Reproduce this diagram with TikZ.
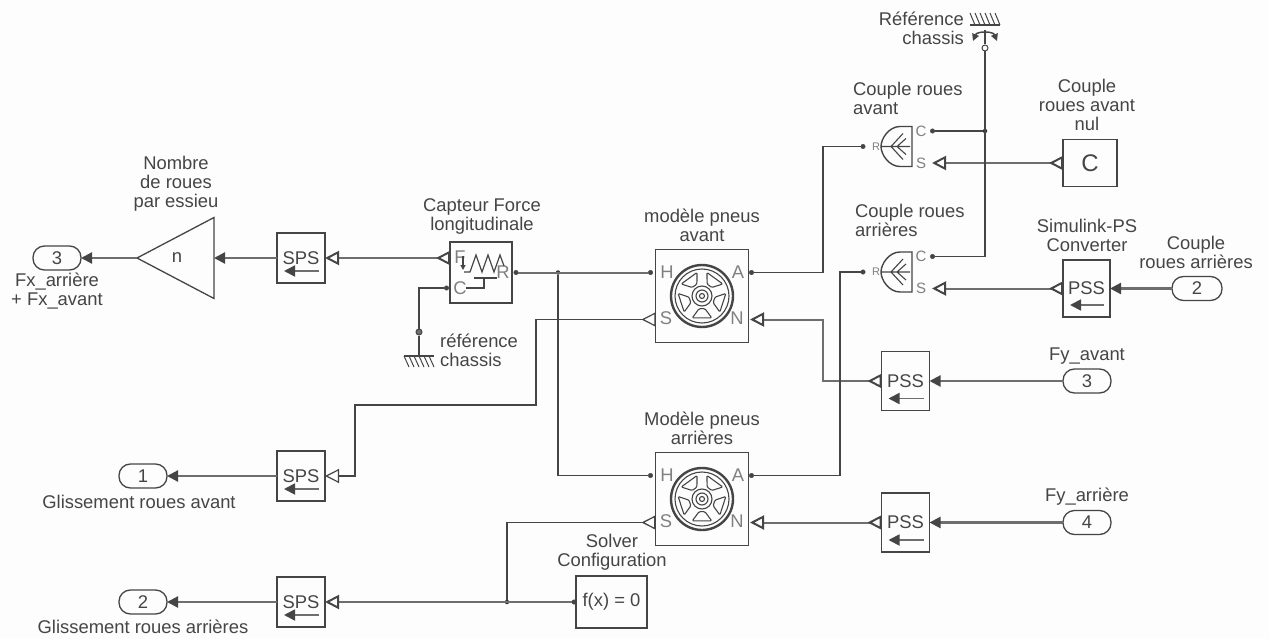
\documentclass[tikz,border=0pt]{standalone}
\usepackage{fontspec}
\setmainfont{Liberation Sans}
\usepackage{tikz}
\usetikzlibrary{positioning,arrows.meta,shapes.geometric}
\definecolor{inkgray}{HTML}{454545}
\definecolor{wiregray}{HTML}{6E6E6E}
\definecolor{lettergray}{HTML}{808080}
\definecolor{papergray}{HTML}{FDFDFD}
\tikzset{
  simblock/.style={draw=inkgray, line width=1.3pt, outer sep=0pt, inner sep=0pt, align=center},
  convblock/.style={simblock, minimum width=48pt, minimum height=50pt},
  inport/.style={draw=inkgray, line width=1.3pt, rounded corners=11.5pt, outer sep=0pt, inner sep=0pt, minimum width=48pt, minimum height=24pt},
  gainblock/.style={simblock, isosceles triangle, isosceles triangle stretches, shape border rotate=180, minimum width=81pt, minimum height=77pt},
  pdot/.style={circle, fill=inkgray, draw=inkgray, inner sep=0pt, minimum size=4.5pt, outer sep=0pt},
  jdot/.style={circle, fill=black!80, inner sep=0pt, minimum size=4.5pt, outer sep=0pt},
  caption/.style={inner sep=0pt, align=center},
  letter/.style={inner sep=0pt, text=lettergray},
  conswire/.style={draw=inkgray, line width=1.3pt},
  sigwire/.style={draw=wiregray, line width=2.2pt, -{Triangle[length=11pt, width=11pt, fill=inkgray, color=inkgray]}},
  psline/.style={draw=wiregray, line width=2pt, {Triangle[open, reversed, length=14pt, width=14pt, color=inkgray]}-{Triangle[open, length=14pt, width=14pt, color=inkgray]}},
  psbranch/.style={conswire, {Triangle[open, reversed, length=14pt, width=14pt]}-},
  convarrow/.style={draw=wiregray, line width=1.8pt, -{Triangle[length=11pt, width=11pt, color=inkgray]}},
  tyre/.pic={
    \node[simblock, minimum width=93pt, minimum height=93pt] (-box) at (0,0) {};
    \node[pdot] (-pH) at (-51.5,-23.5) {};
    \node[pdot] (-pA) at (49.5,-23.5) {};
    \coordinate (-pS) at (-46.5,23.5);
    \coordinate (-pN) at (48,23.5);
    \node[letter] (-H) at (-35,-23.5) {H};
    \node[letter] (-A) at (36,-23.5) {A};
    \node[letter] (-S) at (-36,22) {S};
    \node[letter] (-N) at (35,22) {N};
    \draw[inkgray, line width=2.4pt] (0,0) circle[radius=31pt];
    \draw[inkgray, line width=1.1pt] (0,0) circle[radius=27pt];
    \draw[inkgray, line width=1.1pt] (0,0) circle[radius=10pt] circle[radius=6pt] circle[radius=2.5pt];
    \foreach \a in {18,90,162,234,306}
      \draw[inkgray, line width=1.1pt, rounded corners=1.2pt] (\a-13:13) -- (\a+13:13) -- (\a+24:24) -- (\a-24:24) -- cycle;
  },
  coupleur/.pic={
    \node[letter] (-R) at (-21,0) {\fontsize{11}{11}\selectfont R};
    \node[letter] (-C) at (24,-15.5) {\fontsize{15}{15}\selectfont C};
    \node[letter] (-S) at (24,16.5) {\fontsize{15}{15}\selectfont S};
    \node[pdot] (-pR) at (-34,0) {};
    \node[pdot] (-pC) at (35.5,-15.5) {};
    \coordinate (-pS) at (35,16.5);
    \draw[inkgray, line width=1.4pt] (15,-20) -- (3,-20) .. controls (-8,-20) and (-16,-8) .. (-16,0) .. controls (-16,8) and (-8,20) .. (3,20) -- (15,20) -- cycle;
    \draw[inkgray, line width=1.1pt] (-16,0) -- (13,0) (-6,0) -- (6,-13) (-6,0) -- (6,13) (0,0) -- (9,-8) (0,0) -- (9,8);
  }
}
\begin{document}
\begin{tikzpicture}[x=1pt, y=-1pt, every node/.style={font=\fontsize{18.4}{19}\selectfont, text=inkgray}]
  \useasboundingbox (0,0) rectangle (1269,639);
  \fill[papergray] (0,0) rectangle (1269,639);
  % bloc gauche
  \node[inport] (sortie3) at (57,258) {3};
  \node[gainblock, anchor=apex] (gain) at (137,258) {n\hspace*{20pt}};
  \node[convblock] (spsforce) at (301,258) {SPS};
  \node[inport] (sortie1) at (143,476) {1};
  \node[convblock] (spsavant) at (301,476) {SPS};
  \node[inport] (sortie2) at (143,602) {2};
  \node[convblock] (spsarriere) at (301,602) {SPS};
  \node[simblock, minimum width=71pt, minimum height=52pt] (solver) at (611.5,602) {f(x) = 0};
  \node[pdot] (solverport) at (574,602) {};
  % capteur
  \node[simblock, minimum width=62pt, minimum height=61pt] (capteur) at (481,272.5) {};
  \node[letter] (capteurF) at (460,257) {F};
  \node[letter] (capteurC) at (460,288) {C};
  \node[letter] (capteurR) at (503,272) {R};
  \coordinate (capteurpF) at (450,258);
  \node[pdot] (capteurpC) at (446.5,288) {};
  \node[pdot] (capteurpR) at (516,272.5) {};
  \draw[inkgray, line width=1.2pt] (464,272) -- (470,272) -- (476,255) -- (482,272) -- (488,255) -- (494,272) -- (500,255) -- (504,266);
  \draw[inkgray, line width=2.4pt] (474,278) -- (497,278);
  \draw[inkgray, line width=1.2pt] (484,278) -- (484,288) -- (466,288);
  \draw[inkgray, line width=1.2pt, -{Triangle[length=5pt, width=5pt]}] (463,256) -- (463,270);
  % roues
  \pic (avant) at (702,296) {tyre};
  \pic (arriere) at (702,499) {tyre};
  \node[jdot] (jforce) at (558,272.5) {};
  \node[jdot] (jsolver) at (507,602) {};
  \coordinate (coudeS1) at (536,405);
  \coordinate (coudeS2) at (355,405);
  \coordinate (coudeN) at (823,319.5);
  \coordinate (coudeAav) at (823,146.5);
  \coordinate (coudeAar) at (840,272);
  % capteurs couple
  \pic (cplavant) at (897,146.5) {coupleur};
  \pic (cplarriere) at (897,272) {coupleur};
  \node[simblock, minimum width=54pt, minimum height=47pt, font=\fontsize{24}{24}\selectfont] (constC) at (1090,163) {C};
  \node[convblock, minimum width=47pt, minimum height=57pt] (pssconv) at (1086.5,288.5) {PSS};
  \node[convblock, minimum height=59pt] (pssavant) at (905.5,381) {PSS};
  \node[convblock, minimum height=59pt] (pssarriere) at (905.5,522.5) {PSS};
  \node[inport, minimum width=50pt] (entree2) at (1197,288.5) {2};
  \node[inport] (entree3) at (1087,381) {3};
  \node[inport] (entree4) at (1087,522.5) {4};
  \foreach \blk in {spsforce,spsavant,spsarriere,pssavant,pssarriere,pssconv}
    \draw[convarrow] ([shift={(-6,-12)}]\blk.south east) -- ([shift={(7,-12)}]\blk.south west);
  % references
  \node[circle, draw=inkgray, line width=1pt, inner sep=0pt, minimum size=6pt] (refhaut) at (985,48) {};
  \node[jdot] (jcouple) at (985,131) {};
  \node[circle, draw=inkgray, fill=wiregray, line width=1pt, inner sep=0pt, minimum size=6pt] (refbas) at (419,332) {};
  \coordinate (masse) at (419,356);
  \coordinate (pivot) at (985,30);
  \draw[inkgray, line width=1.2pt] (970,25) -- (1000,25);
  \foreach \x in {970,975,...,995}
    \draw[inkgray, line width=1pt] (\x,13) -- ++(5,12);
  \draw[inkgray, line width=1.5pt, {Triangle[length=7pt, width=7pt]}-{Triangle[length=7pt, width=7pt]}] (973,41) .. controls (977,31) and (993,31) .. (997,41);
  \draw[inkgray, line width=1.2pt] (404,356) -- (434,356);
  \foreach \x in {404,409,...,429}
    \draw[inkgray, line width=1pt] (\x,356) -- ++(5,11);
  % liaisons
  \draw[sigwire] (gain.apex) -- (sortie3.east);
  \draw[sigwire] (spsforce.west) -- (gain.east);
  \draw[sigwire] (spsavant.west) -- (sortie1.east);
  \draw[sigwire] (spsarriere.west) -- (sortie2.east);
  \draw[sigwire] (entree2.west) -- (pssconv.east);
  \draw[sigwire] (entree3.west) -- (pssavant.east);
  \draw[sigwire] (entree4.west) -- (pssarriere.east);
  \draw[psline] (capteurpF) -- (spsforce.east);
  \draw[psline, draw=inkgray, line width=1.2pt] (avant-pS) -| (coudeS1) -- (coudeS2) |- (spsavant.east);
  \draw[psline] (pssavant.west) -| (coudeN) -- (avant-pN);
  \draw[psline] (pssarriere.west) -- (arriere-pN);
  \draw[psline] (constC.west) -- (cplavant-pS);
  \draw[psline] (pssconv.west) -- (cplarriere-pS);
  \draw[conswire, draw=wiregray, line width=2pt, -{Triangle[open, length=14pt, width=14pt, color=inkgray]}] (solverport) -- (spsarriere.east);
  \draw[psbranch] (arriere-pS) -| (jsolver);
  \draw[conswire, draw=wiregray, line width=2pt] (capteurpR) -- (avant-pH);
  \draw[conswire] (jforce) |- (arriere-pH);
  \draw[conswire] (capteurpC) -| (refbas);
  \draw[conswire] (refbas) -- (masse);
  \draw[conswire] (avant-pA) -| (coudeAav) -- (cplavant-pR);
  \draw[conswire] (arriere-pA) -| (coudeAar) -- (cplarriere-pR);
  \draw[conswire] (refhaut) |- (cplarriere-pC);
  \draw[conswire] (jcouple) -- (cplavant-pC);
  \draw[conswire] (pivot) -- (refhaut);
  % textes
  \node[caption] (lblgain) at (176,184) {Nombre\\de roues\\par essieu};
  \node[caption] (lblfx) at (57,291) {Fx\_arrière\\+ Fx\_avant};
  \node[caption] (lblcapteur) at (482,216.5) {Capteur Force\\longitudinale};
  \node[caption] (lblavant) at (702,225) {modèle pneus\\avant};
  \node[caption] (lblarriere) at (702,428.5) {Modèle pneus\\arrières};
  \node[caption, align=left, anchor=west] (lblcplavant) at (853,98.5) {Couple roues\\avant};
  \node[caption, align=left, anchor=west] (lblcplarriere) at (855,220.5) {Couple roues\\arrières};
  \node[caption] (lblconst) at (1087,105) {Couple\\roues avant\\nul};
  \node[caption] (lblconv) at (1087,235) {Simulink-PS\\Converter};
  \node[caption] (lblentree2) at (1196,252.5) {Couple\\roues arrières};
  \node[caption] (lblentree3) at (1087,356) {Fy\_avant};
  \node[caption] (lblentree4) at (1087,497) {Fy\_arrière};
  \node[caption] (lblsolver) at (612,552.5) {Solver\\Configuration};
  \node[caption] (lblsortie1) at (139,502) {Glissement roues avant};
  \node[caption] (lblsortie2) at (143,627) {Glissement roues arrières};
  \node[caption, align=right, anchor=east] (lblrefhaut) at (964,28) {Référence\\chassis};
  \node[caption, align=left, anchor=west] (lblrefbas) at (440,350) {référence\\chassis};
\end{tikzpicture}
\end{document}
